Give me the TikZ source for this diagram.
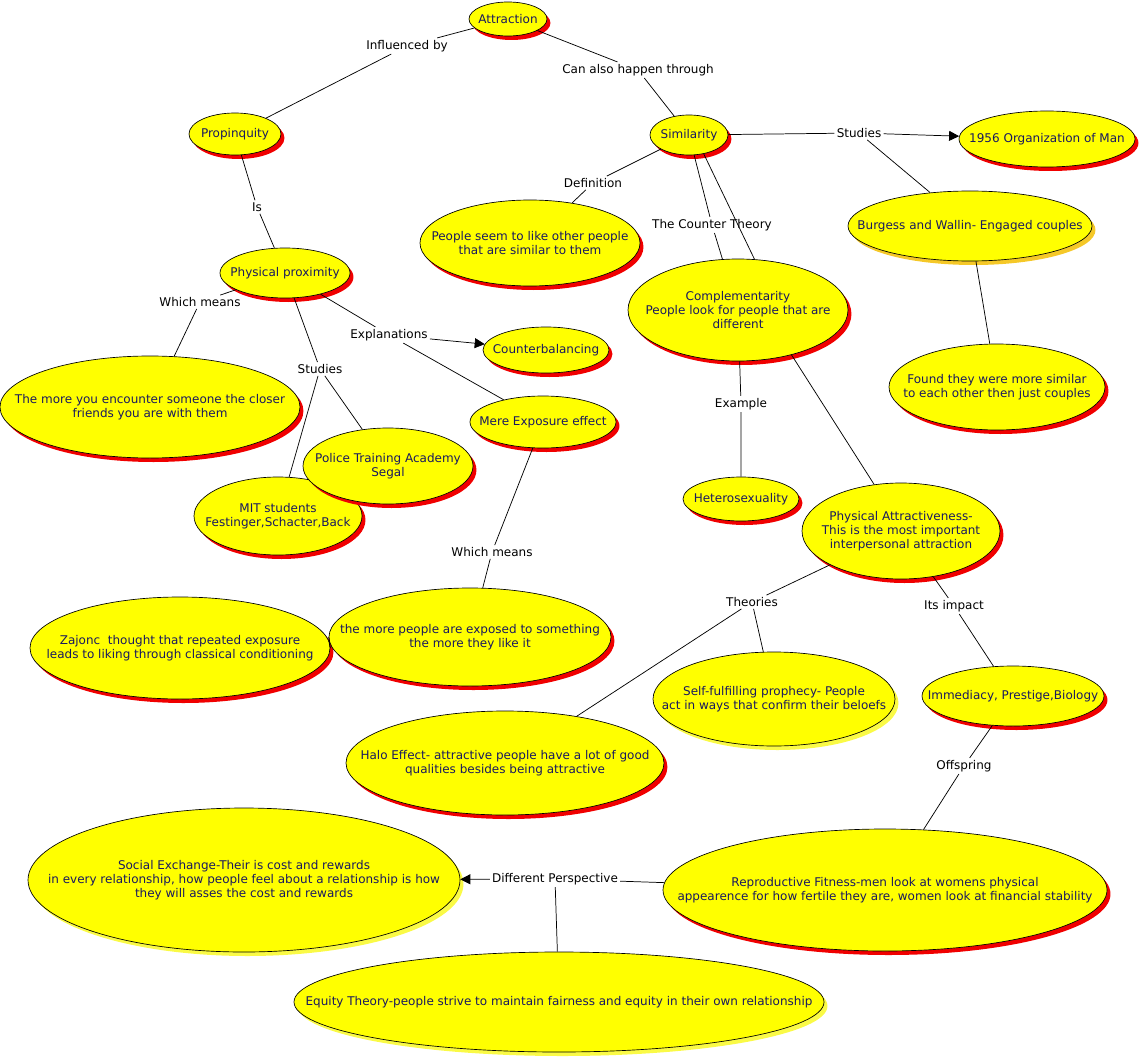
\documentclass[tikz,border=0pt]{standalone}
\usepackage{fontspec}
\setmainfont{DejaVu Sans}
\usetikzlibrary{shapes.geometric,shadows,arrows.meta}
\definecolor{ink}{RGB}{25,25,95}
\definecolor{yel}{RGB}{255,255,0}
\definecolor{shred}{RGB}{240,0,0}
\definecolor{shyel}{RGB}{250,250,70}
\definecolor{shorg}{RGB}{245,200,40}
\tikzset{
  concept/.style={ellipse, draw=black, line width=0.5pt, fill=yel, inner sep=0pt,
    drop shadow={fill=#1, opacity=1, shadow xshift=2.6pt, shadow yshift=-3pt}},
  concept/.default=shred,
  ctext/.style={text=ink, align=center, font=\fontsize{9}{10.3}\selectfont},
  link/.style={fill=white, text=black, inner sep=1.5pt, font=\fontsize{9}{10.3}\selectfont},
  conn/.style={draw=black, line width=0.55pt},
  arr/.style={conn, -{Triangle[length=7.5pt,width=7.5pt]}}
}
\newcommand{\cnode}[6][shred]{%
  \node[concept=#1, minimum width=#4, minimum height=#5] (#2) at #3 {};
  \node[ctext] at (#2.center) {#6};}
\begin{document}
\begin{tikzpicture}[x=0.75pt,y=-0.75pt]
\useasboundingbox (0,0) rectangle (1141,1059);
% concepts
\cnode{attr}{(508,19)}{58.5pt}{25.5pt}{Attraction}
\cnode{prop}{(235,134)}{69pt}{31.5pt}{Propinquity}
\cnode{sim}{(689,135)}{58.5pt}{30pt}{Similarity}
\cnode{org}{(1047,139)}{132pt}{42pt}{1956 Organization of Man}
\cnode[shorg]{burg}{(970,226)}{183pt}{52.5pt}{Burgess and Wallin- Engaged couples}
\cnode{def}{(530,243)}{165pt}{64.5pt}{People seem to like other people\\that are similar to them}
\cnode{comp}{(738,310)}{165pt}{76.5pt}{Complementarity\\People look for people that are\\different}
\cnode{pp}{(285,273)}{97.5pt}{37.5pt}{Physical proximity}
\cnode{cb}{(546,350)}{94.5pt}{34.5pt}{Counterbalancing}
\cnode{found}{(997,387)}{162pt}{64.5pt}{Found they were more similar\\to each other then just couples}
\cnode{more}{(150,407)}{225pt}{76.5pt}{The more you encounter someone the closer\\friends you are with them}
\cnode{mee}{(543,422)}{109.5pt}{39pt}{Mere Exposure effect}
\cnode{mit}{(278,516)}{126pt}{58.5pt}{MIT students\\Festinger,Schacter,Back}
\cnode{police}{(388,466)}{127.5pt}{57pt}{Police Training Academy\\Segal}
\cnode{het}{(741,499)}{87pt}{33pt}{Heterosexuality}
\cnode{pa}{(901,531)}{148.5pt}{72pt}{Physical Attractiveness-\\This is the most important\\interpersonal attraction}
\cnode{zaj}{(180,648)}{225pt}{76.5pt}{Zajonc\ \ thought that repeated exposure\\leads to liking through classical conditioning}
\cnode{exp}{(470,637)}{211.5pt}{73.5pt}{the more people are exposed to something\\the more they like it}
\cnode[shyel]{self}{(774,699)}{181.5pt}{70.5pt}{Self-fulfilling prophecy- People\\act in ways that confirm their beloefs}
\cnode{imm}{(1013,696)}{136.5pt}{45pt}{Immediacy, Prestige,Biology}
\cnode{halo}{(505,763)}{238.5pt}{78pt}{Halo Effect- attractive people have a lot of good\\qualities besides being attractive}
\cnode[shyel]{social}{(244,880)}{324pt}{108pt}{Social Exchange-Their is cost and rewards\\in every relationship, how people feel about a relationship is how\\they will asses the cost and rewards}
\cnode{repro}{(885,890)}{333pt}{91.5pt}{Reproductive Fitness-men look at womens physical\\appearence for how fertile they are, women look at financial stability}
\cnode[shyel]{equity}{(559,1002)}{397.5pt}{75pt}{Equity Theory-people strive to maintain fairness and equity in their own relationship}
% link labels
\node[link] (linfl) at (407,46) {Influenced by};
\node[link] (lcan) at (638,70) {Can also happen through};
\node[link] (lis) at (257,207) {Is};
\node[link] (lst1) at (859,133) {Studies};
\node[link] (ldef) at (593,183) {Definition};
\node[link] (lct) at (712,225) {The Counter Theory};
\node[link] (lwm1) at (200,302) {Which means};
\node[link] (lexpl) at (389,335) {Explanations};
\node[link] (lst2) at (320,369) {Studies};
\node[link] (lex) at (741,404) {Example};
\node[link] (lwm2) at (492,552) {Which means};
\node[link] (lth) at (752,602) {Theories};
\node[link] (limp) at (954,606) {Its impact};
\node[link] (loff) at (964,766) {Offspring};
\node[link] (ldp) at (555,879) {Different Perspective};
% connectors
\draw[conn] (attr) -- (linfl) -- (prop);
\draw[conn] (attr) -- (lcan) -- (sim);
\draw[conn] (prop) -- (lis) -- (pp);
\draw[conn] (sim) -- (lst1);
\draw[arr] (lst1) -- (org);
\draw[conn] (lst1) -- (burg);
\draw[conn] (sim) -- (ldef) -- (def);
\draw[conn] (sim) -- (lct) -- (comp);
\draw[conn] (sim.-52) -- (comp.72);
\draw[conn] (burg) -- (found);
\draw[conn] (comp) -- (lex) -- (het);
\draw[conn] (comp.-40) -- (pa.120);
\draw[conn] (pp) -- (lwm1) -- (more);
\draw[conn] (pp) -- (lst2);
\draw[conn] (lst2) -- (mit);
\draw[conn] (lst2) -- (police);
\draw[conn] (pp) -- (lexpl);
\draw[arr] (lexpl) -- (cb);
\draw[conn] (lexpl) -- (mee);
\draw[conn] (mee) -- (lwm2) -- (exp);
\draw[conn] (exp.west) -- (zaj.east);
\draw[conn] (pa) -- (lth);
\draw[conn] (lth) -- (halo);
\draw[conn] (lth) -- (self);
\draw[conn] (pa) -- (limp) -- (imm);
\draw[conn] (imm) -- (loff) -- (repro);
\draw[conn] (repro) -- (ldp);
\draw[arr] (ldp) -- (social);
\draw[conn] (ldp) -- (equity);
\end{tikzpicture}
\end{document}
